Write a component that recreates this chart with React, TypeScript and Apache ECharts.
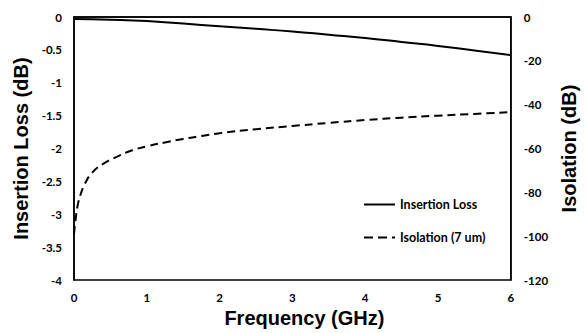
import React, { useEffect, useRef } from "react";
import * as echarts from "echarts";

const freqIL = [0, 0.5, 1, 1.5, 2, 2.5, 3, 3.5, 4, 4.5, 5, 5.5, 6];
const insertionLoss = [-0.03, -0.04, -0.06, -0.1, -0.14, -0.18, -0.22, -0.27, -0.32, -0.38, -0.44, -0.51, -0.58];

const freqIso = [0, 0.02, 0.05, 0.1, 0.15, 0.25, 0.4, 0.6, 0.8, 1, 1.25, 1.5, 1.75, 2, 2.5, 3, 3.5, 4, 4.5, 5, 5.5, 6];
const isolation = [-99, -93, -86, -80, -76, -71, -67, -63.6, -60.8, -59, -57.2, -55.6, -54.3, -53, -51.2, -49.7, -48.3, -47, -45.9, -45, -44.2, -43.4];

const TICK_FONT = "Lato, 'Liberation Sans', Arial, sans-serif";
const TITLE_FONT = "'Liberation Sans', Arial, sans-serif";

const SOLID_ICON = "path://M0,0h31v2h-31z";
const DASH_ICON = "path://M0,0h9v2h-9z M14,0h9v2h-9z M28,0h3v2h-3z";

export default function App() {
  const ref = useRef<HTMLDivElement>(null);
  useEffect(() => {
    if (!ref.current) return;
    const chart = echarts.init(ref.current, null, { renderer: "svg" });
    const tickLabel = { color: "#000", fontFamily: TICK_FONT, fontWeight: "bold" as const, fontSize: 11.5 };
    const titleStyle = { color: "#000", fontFamily: TITLE_FONT, fontWeight: "bold" as const, fontSize: 20 };
    chart.setOption({
      animation: false,
      backgroundColor: "#fff",
      grid: { left: 74, right: 59, top: 17, bottom: 48, show: true, borderColor: "#000", borderWidth: 1.5, backgroundColor: "transparent" },
      legend: {
        orient: "vertical",
        left: 359,
        top: 193,
        itemWidth: 31,
        itemHeight: 2,
        itemGap: 20,
        itemStyle: { color: "#000", borderWidth: 0 },
        textStyle: { color: "#000", fontFamily: TICK_FONT, fontWeight: "bold", fontSize: 12.5 },
        data: [
          { name: "Insertion Loss", icon: SOLID_ICON },
          { name: "Isolation (7 um)", icon: DASH_ICON },
        ],
      },
      xAxis: {
        type: "value",
        min: 0,
        max: 6,
        interval: 1,
        name: "Frequency (GHz)",
        nameLocation: "middle",
        nameGap: 24,
        nameTextStyle: { ...titleStyle, padding: [0, 0, 0, 24] },
        axisLine: { show: true, lineStyle: { color: "#000", width: 1.5 } },
        axisTick: { show: false },
        splitLine: { show: false },
        axisLabel: { ...tickLabel, margin: 11 },
      },
      yAxis: [
        {
          type: "value",
          min: -4,
          max: 0,
          interval: 0.5,
          name: "Insertion Loss (dB)",
          nameLocation: "middle",
          nameGap: 39,
          nameTextStyle: titleStyle,
          axisLine: { show: true, lineStyle: { color: "#000", width: 1.5 } },
          axisTick: { show: false },
          splitLine: { show: false },
          axisLabel: { ...tickLabel, margin: 12 },
        },
        {
          type: "value",
          min: -120,
          max: 0,
          interval: 20,
          position: "right",
          name: "Isolation (dB)",
          nameLocation: "middle",
          nameGap: 38,
          nameTextStyle: titleStyle,
          axisLine: { show: true, lineStyle: { color: "#000", width: 1.5 } },
          axisTick: { show: false },
          splitLine: { show: false },
          axisLabel: { ...tickLabel, margin: 13 },
        },
      ],
      series: [
        {
          name: "Insertion Loss",
          type: "line",
          yAxisIndex: 0,
          symbol: "none",
          smooth: true,
          data: freqIL.map((f, i) => [f, insertionLoss[i]]),
          lineStyle: { color: "#000", width: 2 },
          itemStyle: { color: "#000" },
        },
        {
          name: "Isolation (7 um)",
          type: "line",
          yAxisIndex: 1,
          symbol: "none",
          smooth: true,
          data: freqIso.map((f, i) => [f, isolation[i]]),
          lineStyle: { color: "#000", width: 2, type: [8, 5] },
          itemStyle: { color: "#000" },
        },
      ],
    });
    return () => chart.dispose();
  }, []);
  return <div ref={ref} style={{ width: 587, height: 333, position: "absolute", left: 0, top: 0 }} />;
}
